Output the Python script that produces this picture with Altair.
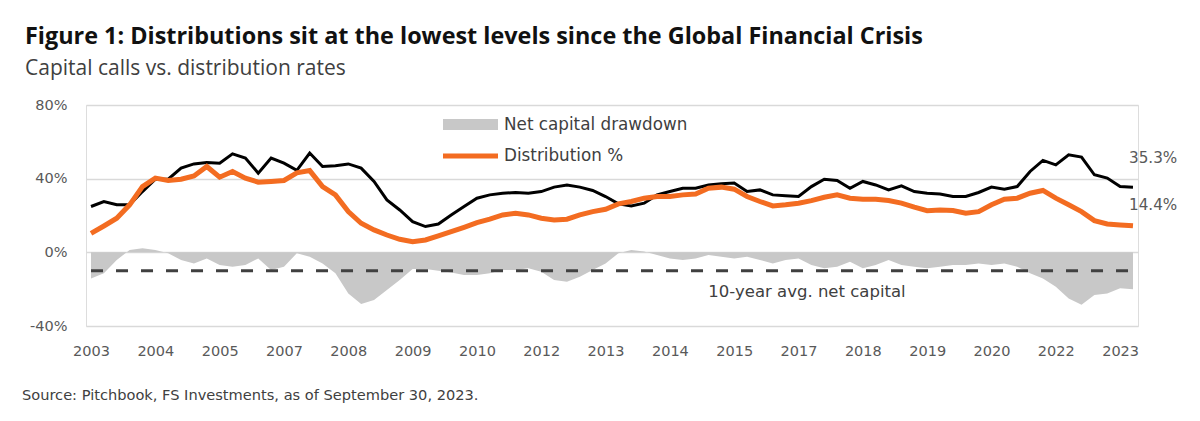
import altair as alt
import pandas as pd

FONT = "Open Sans"
FONT2 = "DejaVu Sans"

# x-axis labels (one every 5 quarters)
x_labels = ["2003", "2004", "2005", "2007", "2008", "2009", "2010", "2012", "2013",
            "2014", "2015", "2017", "2018", "2019", "2020", "2022", "2023"]

# Capital calls (%), quarterly
calls = [24.9, 27.6, 25.8, 25.8, 33.0, 39.7, 39.7, 45.7, 48.0, 48.8,
         48.4, 53.5, 51.2, 43.0, 51.2, 48.4, 44.5, 53.9, 46.6, 47.0,
         48.0, 45.7, 38.5, 28.5, 23.0, 16.7, 14.0, 15.4, 20.3, 24.9,
         29.4, 31.2, 32.1, 32.5, 32.1, 33.0, 35.4, 36.6, 35.4, 33.6,
         30.3, 26.3, 25.2, 26.7, 31.2, 33.0, 34.8, 34.8, 36.6, 37.2,
         37.6, 33.0, 33.9, 31.2, 30.7, 30.3, 35.7, 39.7, 39.0, 34.8,
         38.5, 36.6, 33.9, 36.1, 33.0, 32.1, 31.7, 30.3, 30.3, 32.5,
         35.4, 34.3, 35.7, 43.9, 49.9, 47.5, 53.0, 51.7, 42.1, 40.3,
         35.7, 35.3]

# Distribution rate (%), quarterly
dist = [10.3, 14.3, 18.5, 25.8, 35.7, 40.3, 39.0, 39.7, 41.5, 46.6,
        40.8, 43.9, 40.3, 38.1, 38.5, 39.0, 43.2, 44.4, 35.7, 31.2,
        22.1, 15.8, 12.2, 9.4, 7.1, 5.8, 6.7, 8.9, 11.2, 13.6,
        16.1, 18.0, 20.3, 21.2, 20.3, 18.5, 17.6, 18.0, 20.3, 22.1,
        23.4, 26.3, 27.6, 29.4, 30.3, 30.3, 31.2, 31.7, 34.8, 35.4,
        34.3, 30.3, 27.6, 25.2, 25.8, 26.7, 28.1, 29.9, 31.2, 29.4,
        28.8, 28.8, 28.1, 26.7, 24.5, 22.6, 23.0, 22.7, 21.2, 22.1,
        25.8, 28.8, 29.4, 32.1, 33.6, 29.4, 25.8, 22.1, 17.2, 15.4,
        14.9, 14.4]

# Net capital drawdown (%), quarterly
net = [-14.2, -11.4, -4.2, 1.3, 2.2, 1.3, -0.5, -4.2, -6.0, -3.3,
       -6.9, -7.8, -6.9, -3.3, -9.6, -7.8, -0.5, -2.4, -6.0, -11.4,
       -22.3, -28.1, -25.9, -20.5, -15.0, -9.0, -9.0, -10.0, -11.0, -12.3,
       -12.3, -11.4, -9.6, -9.6, -8.7, -10.5, -15.0, -16.0, -13.2, -9.6,
       -6.0, -0.5, 1.3, 0.4, -1.5, -3.3, -4.2, -3.3, -1.5, -2.4,
       -3.3, -2.4, -4.2, -6.0, -4.2, -3.3, -6.9, -8.7, -7.8, -5.1,
       -8.7, -6.9, -4.2, -6.9, -7.8, -8.7, -7.8, -6.9, -6.9, -6.0,
       -6.9, -6.0, -7.8, -11.4, -14.2, -18.7, -25.0, -28.5, -23.2, -22.3,
       -19.5, -20.0]

avg_net = -10.0

df = pd.DataFrame({"q": list(range(len(calls))), "calls": calls, "dist": dist, "net": net})
n = len(calls)

label_expr = "[" + ",".join("'%s'" % s for s in x_labels) + "][round(datum.value/5)]"

xscale = alt.Scale(domain=[-0.39, n - 1 + 0.39], nice=False, zero=False)
yscale = alt.Scale(domain=[-40, 80], nice=False)

xax = alt.Axis(values=list(range(0, 81, 5)), labelExpr=label_expr, grid=False,
               domain=False, ticks=False, labelPadding=18, title=None,
               labelFontSize=14.5, labelColor="#595959", labelFont=FONT2)
yax = alt.Axis(values=[-40, 0, 40, 80], labelExpr="datum.value + '%'", grid=True,
               gridColor="#D9D9D9", gridWidth=1.5, domain=False, ticks=False,
               labelPadding=19, title=None, labelFontSize=14.5, labelColor="#595959",
               labelFont=FONT2)

base = alt.Chart(df)

area = base.mark_area(color="#C8C8C8").encode(
    x=alt.X("q:Q", scale=xscale, axis=xax),
    y=alt.Y("net:Q", scale=yscale, axis=yax),
    y2=alt.datum(0),
)

dash = base.mark_rule(color="#404040", strokeWidth=3, strokeDash=[12, 13]).encode(
    x=alt.datum(0), x2=alt.datum(n - 1), y=alt.datum(avg_net)
).transform_filter("datum.q == 0")

calls_line = base.mark_line(color="#000000", strokeWidth=3).encode(
    x="q:Q", y="calls:Q"
)
dist_line = base.mark_line(color="#F36C21", strokeWidth=5).encode(
    x="q:Q", y="dist:Q"
)

one = alt.Chart(pd.DataFrame({"k": [0]}))

leg_rect = one.mark_rect(color="#C8C8C8").encode(
    x=alt.value(357), x2=alt.value(412), y=alt.value(14), y2=alt.value(25))
leg_line = one.mark_rule(color="#F36C21", strokeWidth=5).encode(
    x=alt.value(357), x2=alt.value(412), y=alt.value(51))
leg_t1 = one.mark_text(text="Net capital drawdown", align="left", baseline="middle",
                       font=FONT2, fontSize=16.8, color="#404040").encode(
    x=alt.value(418), y=alt.value(20))
leg_t2 = one.mark_text(text="Distribution %", align="left", baseline="middle",
                       font=FONT2, fontSize=16.8, color="#404040").encode(
    x=alt.value(418), y=alt.value(51))

avg_t = one.mark_text(text="10-year avg. net capital", align="center", baseline="middle",
                      font=FONT2, fontSize=16.5, color="#404040").encode(
    x=alt.value(721), y=alt.value(187))

end1 = one.mark_text(text="35.3%", align="left", baseline="middle",
                     font=FONT2, fontSize=15.2, color="#595959").encode(
    x=alt.value(1043), y=alt.value(53))
end2 = one.mark_text(text="14.4%", align="left", baseline="middle",
                     font=FONT2, fontSize=15.2, color="#595959").encode(
    x=alt.value(1043), y=alt.value(100))

source = one.mark_text(text="Source: Pitchbook, FS Investments, as of September 30, 2023.",
                       align="left", baseline="middle", font=FONT2, fontSize=14.6,
                       color="#404040").encode(x=alt.value(-64), y=alt.value(291))

chart = alt.layer(area, dash, calls_line, dist_line, leg_rect, leg_line, leg_t1, leg_t2,
                  avg_t, end1, end2, source).properties(
    width=1052,
    height=221,
    autosize=alt.AutoSizeParams(type="none"),
    padding={"left": 78, "top": 97, "right": 54, "bottom": 87},
    title=alt.TitleParams(
        text="Figure 1: Distributions sit at the lowest levels since the Global Financial Crisis",
        subtitle="Capital calls vs. distribution rates",
        anchor="start", frame="group", dx=-61, offset=17,
        font=FONT, fontSize=23.4, fontWeight="bold", color="#111111",
        subtitleFont=FONT, subtitleFontSize=21, subtitleColor="#404040",
        subtitlePadding=9,
    ),
).configure_view(stroke=None).configure(background="white")

chart.save("out.html", embed_options={"renderer": "svg", "actions": False})
